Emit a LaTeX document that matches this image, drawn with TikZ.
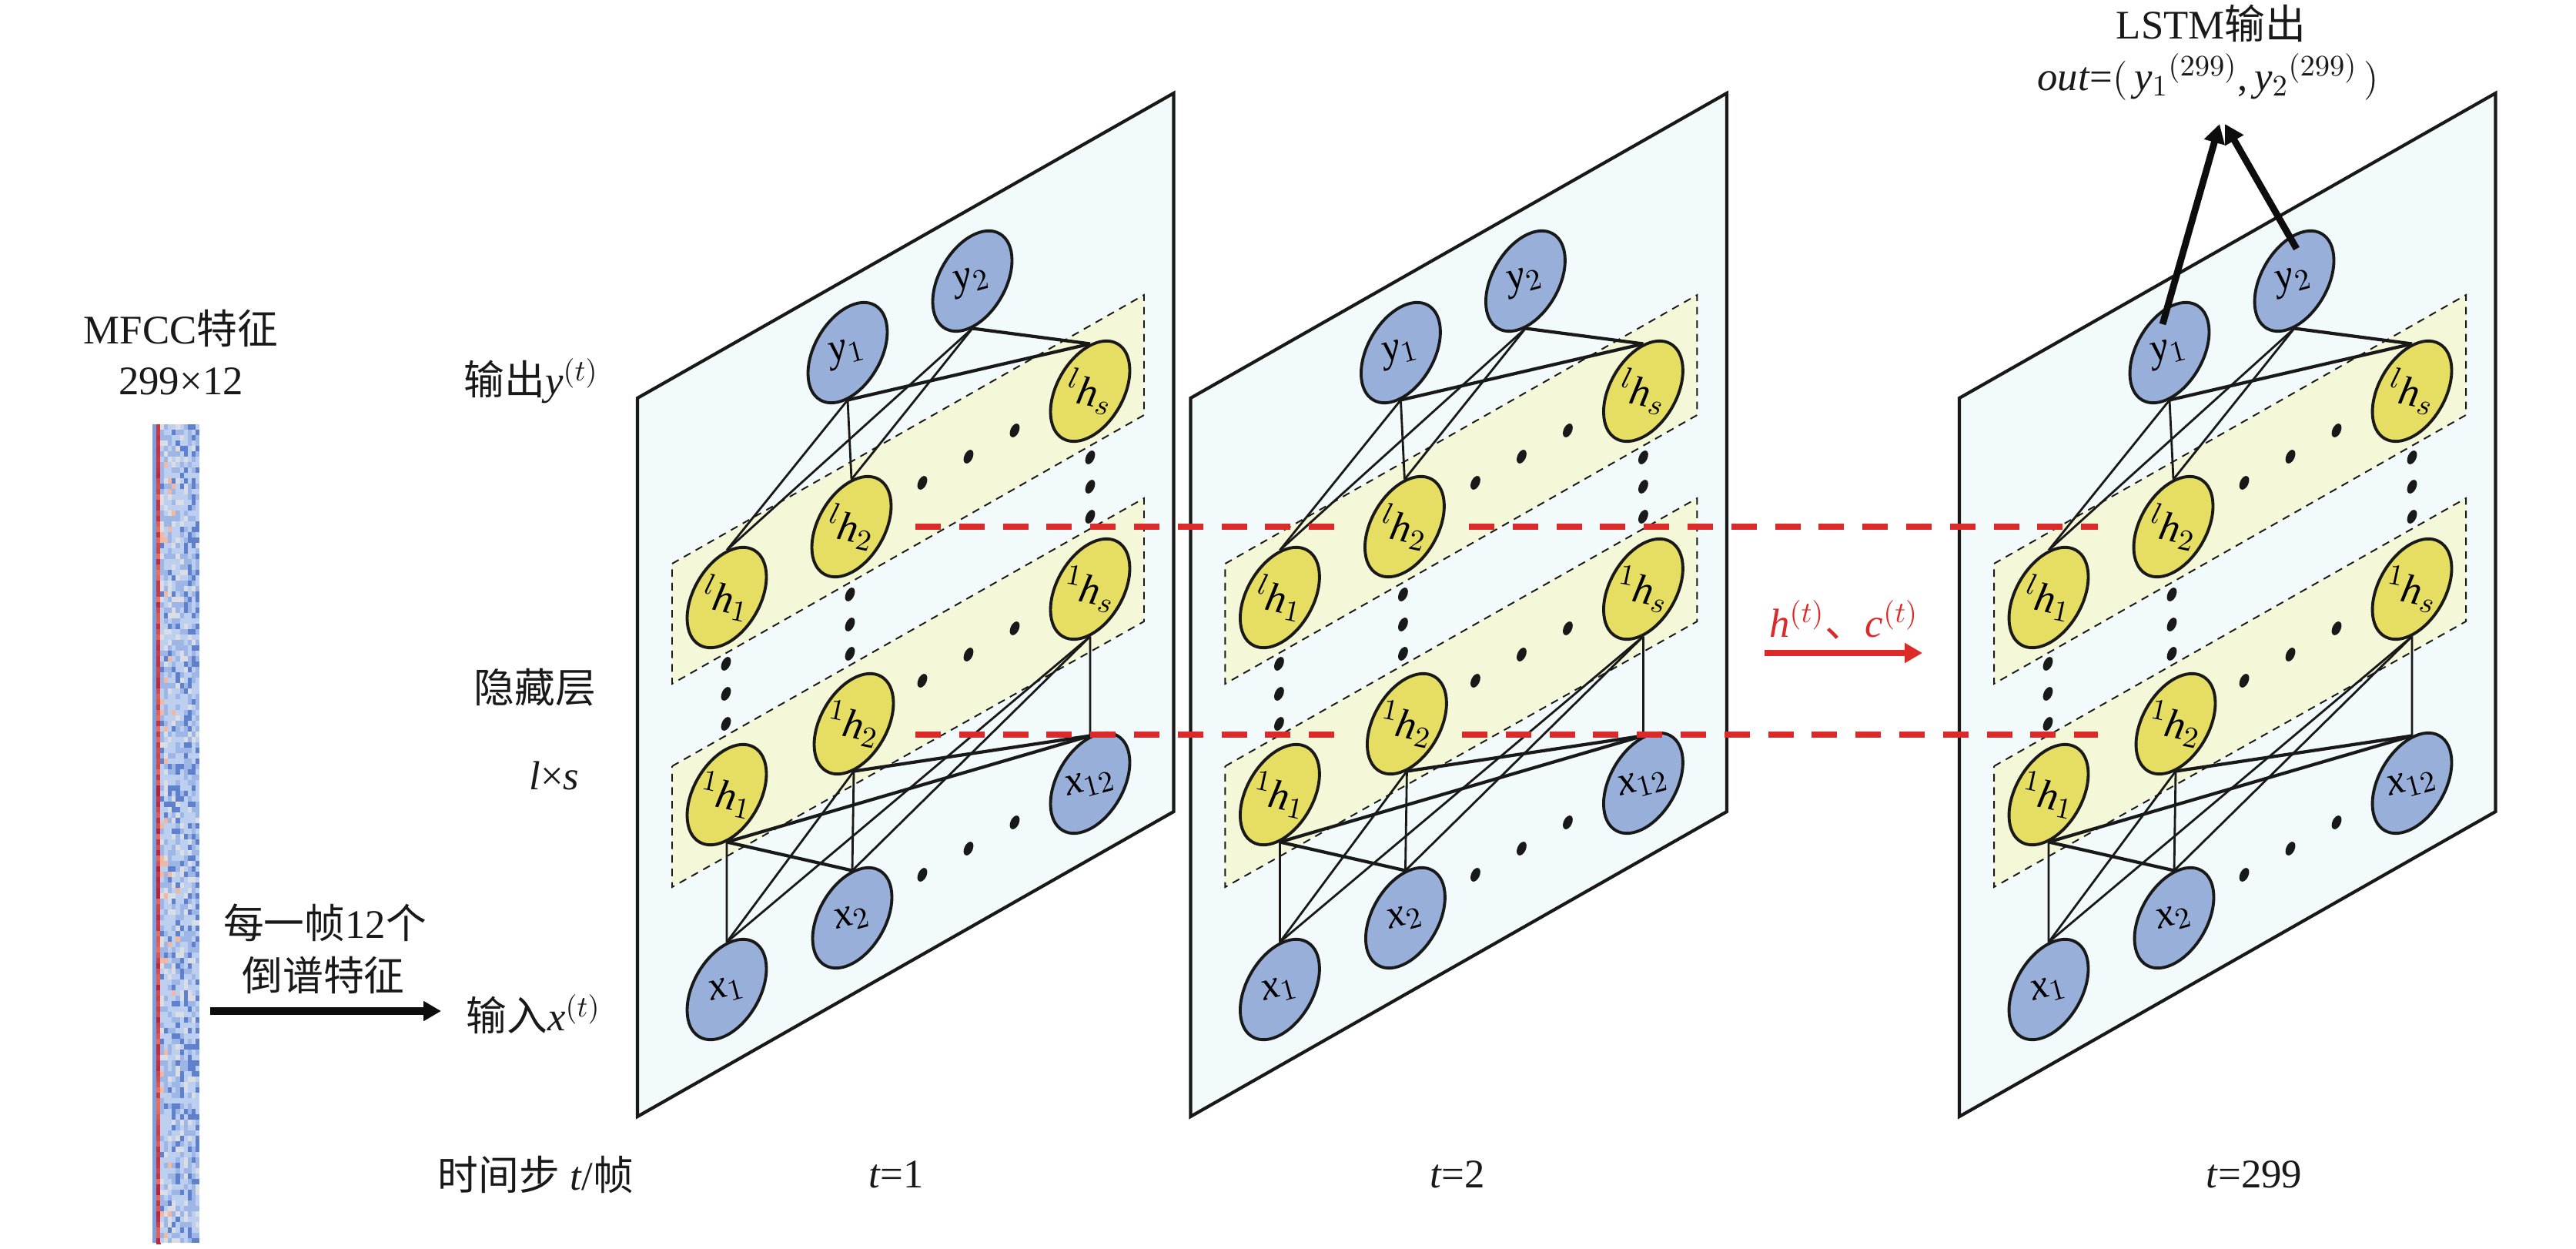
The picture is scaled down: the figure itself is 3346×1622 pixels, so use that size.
\documentclass[tikz,border=0pt]{standalone}
\usepackage{fontspec}
\setmainfont{Liberation Serif}
\newfontfamily\cjk{Noto Sans CJK SC}
\usetikzlibrary{arrows.meta,shapes.geometric}

\definecolor{planefill}{HTML}{F3FAFB}
\definecolor{bandfill}{HTML}{F5F8D8}
\definecolor{bluenode}{HTML}{98AFD9}
\definecolor{yellownode}{HTML}{E6DE63}
\definecolor{lstmred}{HTML}{DC2A2A}
\definecolor{heatside}{HTML}{7F9FDC}
\definecolor{heatdeep}{HTML}{5F80CC}
\definecolor{heatmid}{HTML}{9DB6E6}
\definecolor{heatpale}{HTML}{BDCFEF}
\definecolor{heatgrey}{HTML}{DBDDE4}
\definecolor{heatwarm}{HTML}{F0B8A2}
\definecolor{heatred}{HTML}{B8203A}
\definecolor{heatsoft}{HTML}{E8705E}

% keeps the ellipse at its set size
\newcommand{\tilted}[2]{\makebox[0pt]{\raisebox{-.25em}[0pt][0pt]{$\vcenter{\hbox{\rotatebox{#1}{#2}}}$}}}
\newcommand{\hlabel}[2]{\tilted{18}{${}^{#1}\textit{h}_{#2}$}}
\newcommand{\blabel}[2]{\tilted{45}{\textit{#1}$_{#2}$}}

\tikzset{
  plane/.style={draw=black!90, fill=planefill, line width=1.2pt, line join=miter},
  band/.style={draw=black!90, fill=bandfill, line width=.55pt, dash pattern=on 2.8pt off 2.2pt},
  lstmnode/.style={ellipse, draw=black!90, line width=1.1pt, minimum width=.86cm, minimum height=1.42cm,
    inner sep=0pt, rotate=-30, font=\fontsize{15}{15}\selectfont},
  bluecell/.style={lstmnode, fill=bluenode},
  hiddencell/.style={lstmnode, fill=yellownode},
  dotmark/.style={ellipse, fill=black!90, minimum width=.11cm, minimum height=.19cm, inner sep=0pt, rotate=-25},
  linkthin/.style={draw=black!90, line width=.8pt},
  linkthick/.style={draw=black!90, line width=1.2pt},
  caption/.style={font=\fontsize{15}{18}\selectfont, text=black!90, inner sep=0pt, align=center},
  reddash/.style={draw=lstmred, line width=2.2pt, dash pattern=on 9.4pt off 6.75pt},
}

\begin{document}
\begin{tikzpicture}[x=.01cm, y=-.01cm]
  \useasboundingbox (0,0) rectangle (3346,1622);

  % MFCC strip
  \fill[heatmid] (198,551) rectangle (259,1614);
  \fill[heatside] (198,551) rectangle (203,1614);
  \pgfmathsetseed{299}
  \foreach \row in {0,...,151}{
    \pgfmathrandominteger{\tone}{0}{100}
    \fill[heatred!\tone!heatsoft] (202.5,{551+7*\row}) rectangle (208.5,{558.5+7*\row});
    \foreach \col in {0,...,9}{
      \pgfmathrandominteger{\tone}{0}{99}
      \pgfmathtruncatemacro{\tone}{\tone-2*\col}
      \ifnum\tone<8 \def\cellcol{heatdeep}\else
      \ifnum\tone<36 \def\cellcol{heatmid}\else
      \ifnum\tone<76 \def\cellcol{heatpale}\else
      \ifnum\tone<91 \def\cellcol{heatgrey}\else \def\cellcol{heatwarm}\fi\fi\fi\fi
      \fill[\cellcol] ({208+5.1*\col},{551+7*\row}) rectangle ({min(259,213.6+5.1*\col)},{min(1614,558.5+7*\row)});
    }
  }

  % Left labels
  \node (mfcc) [caption] at (235,426) {MFCC{\cjk 特征}};
  \node (size) [caption] at (235,495) {299×12};
  \node (outy) [caption] at (690,495) {{\cjk 输出}\textit{y}$^{(t)}$};
  \node (hide) [caption] at (695,893) {{\cjk 隐藏层}};
  \node (lxs) [caption] at (720,1007) {\textit{l}×\textit{s}};
  \node (frame) [caption] at (422,1198) {{\cjk 每一帧}12{\cjk 个}};
  \node (ceps) [caption] at (420,1266) {{\cjk 倒谱特征}};
  \node (inx) [caption] at (693,1317) {{\cjk 输入}\textit{x}$^{(t)}$};
  \node (tstep) [caption] at (696,1525) {{\cjk 时间步} \textit{t}/{\cjk 帧}};
  \node (t1) [caption] at (1164,1525) {\textit{t}=1};
  \node (t2) [caption] at (1893,1525) {\textit{t}=2};
  \node (t299) [caption] at (2928,1525) {\textit{t}=299};

  % Planes
  \foreach \dx/\pl in {0/a,7.18/b,17.16/c}{
    \begin{scope}[xshift=\dx cm]
      \draw[plane] (828,517) -- (1524.5,121) -- (1524.5,1054) -- (828,1450) -- cycle;
      \draw[band] (873,732) -- (1486,383) -- (1486,539) -- (873,888) -- cycle;
      \draw[band] (873,995) -- (1486,647) -- (1486,807) -- (873,1152) -- cycle;

      \node (\pl y1) [bluecell] at (1101,458) {\blabel{y}{1}};
      \node (\pl y2) [bluecell] at (1263,365) {\blabel{y}{2}};
      \node (\pl l1) [hiddencell] at (944,776) {\hlabel{l}{1}};
      \node (\pl l2) [hiddencell] at (1106,684) {\hlabel{l}{2}};
      \node (\pl ls) [hiddencell] at (1416,508) {\hlabel{l}{s}};
      \node (\pl h1) [hiddencell] at (944,1032) {\hlabel{1}{1}};
      \node (\pl h2) [hiddencell] at (1109,940) {\hlabel{1}{2}};
      \node (\pl hs) [hiddencell] at (1416,765) {\hlabel{1}{s}};
      \node (\pl x1) [bluecell] at (944,1285) {\blabel{x}{1}};
      \node (\pl x2) [bluecell] at (1107,1192) {\blabel{x}{2}};
      \node (\pl xs) [bluecell] at (1416,1017) {\blabel{x}{12}};

      % Dots
      \foreach \px/\py [count=\i] in {1198/627,1258/593,1318/559,1416/594,1416/632,1416/671,
          1104/772,1104/811,1104/849,943/862,943/901,943/940,
          1198/884,1258/850,1318/816,1198/1136,1258/1102,1318/1068}
        \node (\pl dot\i) [dotmark] at (\px,\py) {};

      % Links
      \foreach \up/\dn/\kind in {y1/l1/linkthin,y1/l2/linkthin,y1/ls/linkthick,
          y2/l1/linkthin,y2/l2/linkthin,y2/ls/linkthick,
          h1/x1/linkthin,h2/x1/linkthin,hs/x1/linkthin,
          h1/x2/linkthick,h2/x2/linkthin,hs/x2/linkthin,
          h1/xs/linkthick,h2/xs/linkthick,hs/xs/linkthin}
        \draw[\kind] (\pl\up.-60) -- (\pl\dn.120);
    \end{scope}
  }

  % Hidden state passing
  \coordinate (redtopa) at (1189,684);
  \coordinate (redtopb) at (1735,684);
  \coordinate (redtopc) at (1908,684);
  \coordinate (redtopd) at (2725,684);
  \coordinate (redlowa) at (1189,954);
  \coordinate (redlowb) at (1735,954);
  \coordinate (redlowc) at (1899,954);
  \coordinate (redlowd) at (2725,954);
  \draw[reddash] (redtopa) -- (redtopb);
  \draw[reddash] (redtopc) -- (redtopd);
  \draw[reddash] (redlowa) -- (redlowb);
  \draw[reddash] (redlowc) -- (redlowd);

  \node (state) [caption, text=lstmred] at (2395,805) {\textit{h}$^{(t)}${\cjk 、}\textit{c}$^{(t)}$};
  \coordinate (hca) at (2292,848);
  \coordinate (hcb) at (2497,848);
  \draw[draw=lstmred, fill=lstmred, line width=2pt, -{Triangle[length=6.5pt,width=7pt]}] (hca) -- (hcb);

  % Input arrow
  \coordinate (ina) at (273,1313);
  \coordinate (inb) at (573,1313);
  \draw[line width=2.6pt, black!95, -{Triangle[length=6.5pt,width=7pt]}] (ina) -- (inb);

  % Output
  \node (lstm) [caption] at (2872,30) {LSTM{\cjk 输出}};
  \node (outp) [caption] at (2868,100) {\textit{out}=$\bigl(\,$\textit{y}$_{1}{}^{(299)}$,\,\textit{y}$_{2}{}^{(299)}\,\bigr)$};
  \coordinate (foota) at (2809,421);
  \coordinate (footb) at (2983,323);
  \coordinate (tipa) at (2883,161);
  \coordinate (tipb) at (2890,161);
  \draw[line width=2.5pt, black!95, -{Triangle[length=7pt,width=7.5pt]}] (foota) -- (tipa);
  \draw[line width=2.5pt, black!95, -{Triangle[length=7pt,width=7.5pt]}] (footb) -- (tipb);
\end{tikzpicture}
\end{document}
